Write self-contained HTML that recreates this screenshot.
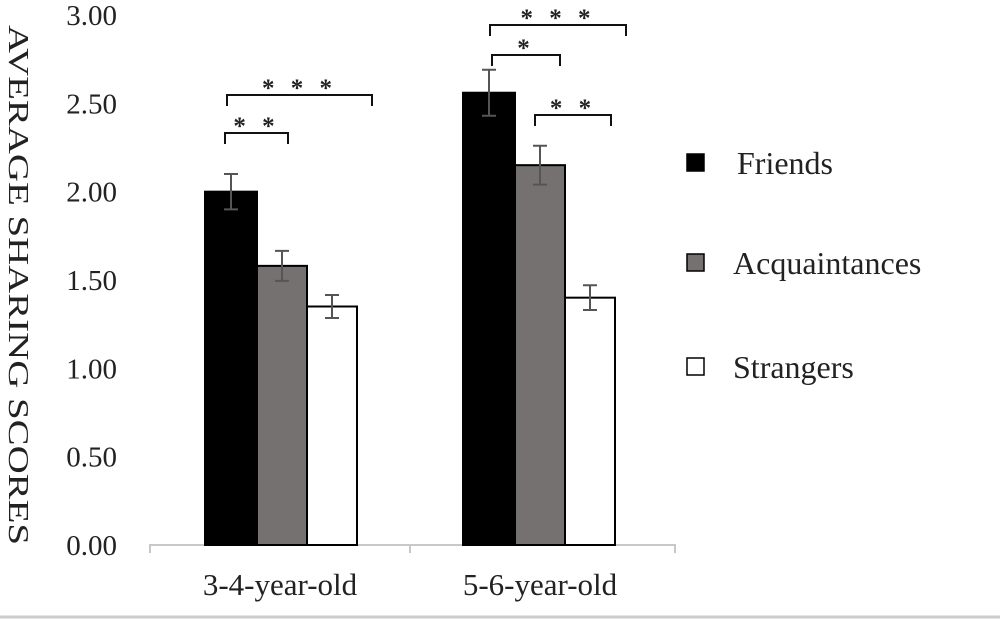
<!DOCTYPE html>
<html><head><meta charset="utf-8"><style>
body{margin:0;background:#fff;width:1000px;height:621px;overflow:hidden}
svg{display:block}
text{font-family:"Liberation Serif",serif;fill:#222}
</style></head><body>
<svg id="c" width="1000" height="621"></svg>
<script>
const categories=["3-4-year-old","5-6-year-old"];
const seriesNames=["Friends","Acquaintances","Strangers"];
const friends=[2.00,2.56];
const acquaintances=[1.58,2.15];
const strangers=[1.35,1.40];
const errFriends=[0.10,0.13];
const errAcq=[0.085,0.11];
const errStr=[0.065,0.07];
const yTicks=[0,0.5,1,1.5,2,2.5,3];
const yTickLabels=["0.00","0.50","1.00","1.50","2.00","2.50","3.00"];

const NS="http://www.w3.org/2000/svg";
const svg=document.getElementById('c');
function el(t,a,txt){const e=document.createElementNS(NS,t);for(const k in a)e.setAttribute(k,a[k]);if(txt!==undefined)e.textContent=txt;svg.appendChild(e);return e;}
const y0=545,y3=15;
const yS=v=>y0-(v/3)*(y0-y3);
const groupStart=[205,463];
const barW=[52,50,50];
const colors=["#000","#767171","#fff"];
const series=[friends,acquaintances,strangers];
const errs=[errFriends,errAcq,errStr];
const xBar=(g,s)=>groupStart[g]+barW.slice(0,s).reduce((a,b)=>a+b,0);

yTicks.forEach((t,i)=>{
 const e=el('text',{x:117,y:yS(t)+10,'text-anchor':'end','font-size':29},yTickLabels[i]);
 
 
});
const yt=el('text',{transform:'translate(9,285) rotate(90)','text-anchor':'middle','font-size':28,fill:'#3a2a2a',textLength:520,lengthAdjust:'spacingAndGlyphs'},'AVERAGE SHARING SCORES');


const ax=el('path',{d:'M150,553V545H675V553M410,545V553',stroke:'#c8c8c8','stroke-width':2,fill:'none'});

const bl=el('line',{x1:0,x2:1000,y1:617,y2:617,stroke:'#ccc','stroke-width':3});


categories.forEach((c,g)=>{
 const t=el('text',{x:[280,540][g],y:595,'text-anchor':'middle','font-size':31},c);
 
 series.forEach((s,i)=>{
  const x=xBar(g,i),w=barW[i],yt=yS(s[g]);
  const r=el('rect',{x:x,y:yt,width:w,height:y0-yt,fill:colors[i],stroke:'#000','stroke-width':2});
  
  
  const cx=x+w/2,e=errs[i][g],ya=yS(s[g]+e),yb=yS(s[g]-e);
  const p=el('path',{d:`M${cx},${ya}V${yb}M${cx-7},${ya}H${cx+7}M${cx-7},${yb}H${cx+7}`,stroke:'#555','stroke-width':2,fill:'none'});
  
 });
});

[[225,288,133,'* *'],[227,372,95,'* * *'],[492,560,55,'*'],[490,626,25,'* * *'],[535,611,115,'* *']].forEach(b=>{
 const p=el('path',{d:`M${b[0]},${b[2]+11}V${b[2]}H${b[1]}V${b[2]+11}`,stroke:'#111','stroke-width':2,fill:'none'});
 
 const t=el('text',{x:(b[0]+b[1])/2,y:b[2]+1,'text-anchor':'middle','font-size':25,'font-weight':'bold',fill:'#333','font-family':'Liberation Sans, sans-serif','letter-spacing':5},b[3]);
 
});

seriesNames.forEach((n,i)=>{
 const y=[163,263,367][i];
 const r=el('rect',{x:687,y:y-9,width:17,height:17,fill:colors[i],stroke:'#000','stroke-width':1.5});
 
 const t=el('text',{x:[737,733,733][i],y:y+11,'font-size':32},n);
 
});
</script>
</body></html>
